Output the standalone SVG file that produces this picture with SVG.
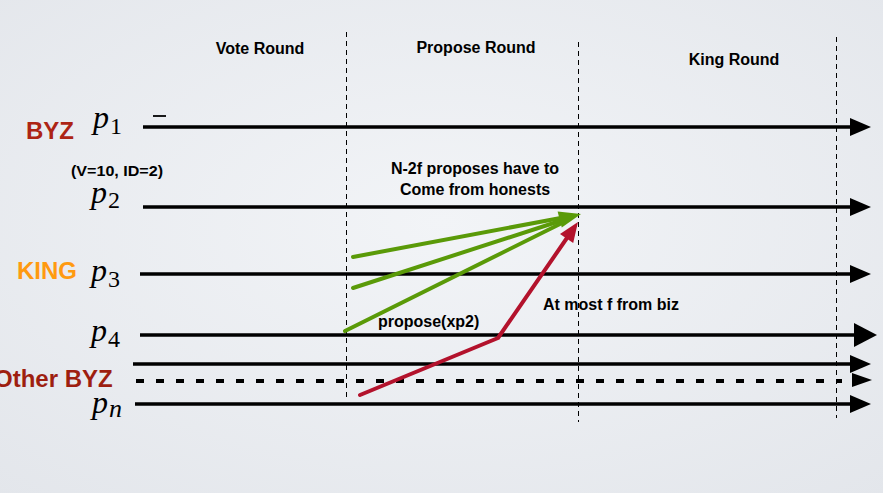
<svg xmlns="http://www.w3.org/2000/svg" width="883" height="493" viewBox="0 0 883 493">
<defs>
<radialGradient id="bg" cx="50%" cy="45%" r="75%">
<stop offset="0" stop-color="#f2f4f7"/>
<stop offset="1" stop-color="#e3e6eb"/>
</radialGradient>
<marker id="ah" markerUnits="userSpaceOnUse" markerWidth="22" markerHeight="18" refX="2" refY="9" orient="auto" viewBox="0 0 22 18">
<polygon points="0,0 21,9 0,18" fill="#000"/>
</marker>
<marker id="ahL" markerUnits="userSpaceOnUse" markerWidth="24" markerHeight="24" refX="2" refY="12" orient="auto" viewBox="0 0 24 24">
<polygon points="0,0 23,12 0,24" fill="#000"/>
</marker>
</defs>
<style>
.t{font-family:"Liberation Sans",Arial,sans-serif;font-weight:bold;fill:#000}
.lab{font-family:"Liberation Sans",Arial,sans-serif;font-weight:bold;font-size:24px}
.m{font-family:"Liberation Serif","Times New Roman",serif;fill:#000}
.tl{stroke:#000;stroke-width:3.5;fill:none}
.vd{stroke:#000;stroke-width:1;stroke-dasharray:5 4;fill:none}
.g{stroke:#5a9a08;stroke-width:4;fill:none;stroke-linecap:round}
.r{stroke:#b3122c;stroke-width:4;fill:none;stroke-linecap:round;stroke-linejoin:round}
</style>
<rect width="883" height="493" fill="url(#bg)"/>

<g id="round-dividers">
<line class="vd" x1="346.5" y1="32" x2="346.5" y2="400"/>
<line class="vd" x1="578.5" y1="42" x2="578.5" y2="422"/>
<line class="vd" x1="836.5" y1="37" x2="836.5" y2="418"/>
</g>

<g id="round-labels">
<text class="t" x="260" y="54" font-size="16" text-anchor="middle">Vote Round</text>
<text class="t" x="476" y="53" font-size="16" text-anchor="middle">Propose Round</text>
<text class="t" x="734" y="65" font-size="16" text-anchor="middle">King Round</text>
</g>

<g id="connectors">
<line class="tl" x1="143" y1="127" x2="852" y2="127" marker-end="url(#ah)"/>
<line class="tl" x1="143" y1="207" x2="852" y2="207" marker-end="url(#ah)"/>
<line class="tl" x1="140" y1="274" x2="852" y2="274" marker-end="url(#ah)"/>
<line class="tl" x1="140" y1="335" x2="856" y2="335" stroke-width="4" marker-end="url(#ahL)"/>
<line class="tl" x1="133" y1="364" x2="852" y2="364" marker-end="url(#ah)"/>
<line x1="136" y1="381" x2="842" y2="381" stroke="#000" stroke-width="4" stroke-dasharray="8 12"/>
<polygon points="852,373 872,380 852,387" fill="#000"/>
<line class="tl" x1="135" y1="404" x2="852" y2="404" marker-end="url(#ah)"/>
<line x1="153" y1="116" x2="166" y2="116" stroke="#000" stroke-width="1.8"/>

<line class="g" x1="353" y1="257" x2="566" y2="217"/>
<line class="g" x1="353" y1="288" x2="566" y2="219"/>
<line class="g" x1="345" y1="331" x2="566" y2="221"/>
<polygon points="557.6,211.5 581,214 561.8,227.6" fill="#5a9a08"/>

<polyline class="r" points="360,395 498,338 569,235"/>
<polygon points="560,234 578,222 573.2,243" fill="#b3122c"/>
</g>

<g id="p1">
<text class="lab" x="26" y="139" fill="#ad2414">BYZ</text>
<text class="m" x="93" y="128" font-size="32" font-style="italic">p</text>
<text class="m" x="110" y="134" font-size="24">1</text>
</g>

<g id="p2">
<text class="t" x="71" y="176" font-size="15" textLength="92" lengthAdjust="spacingAndGlyphs">(V=10, ID=2)</text>
<text class="m" x="91" y="203" font-size="32" font-style="italic">p</text>
<text class="m" x="108" y="208" font-size="24">2</text>
</g>

<g id="p3">
<text class="lab" x="17" y="279" fill="#ff9a10">KING</text>
<text class="m" x="91" y="281" font-size="32" font-style="italic">p</text>
<text class="m" x="108" y="287" font-size="24">3</text>
</g>

<g id="p4">
<text class="m" x="91" y="341" font-size="32" font-style="italic">p</text>
<text class="m" x="108" y="347" font-size="24">4</text>
</g>

<g id="other-byz">
<text class="lab" x="-6" y="387" fill="#9e1f10">Other BYZ</text>
</g>

<g id="pn">
<text class="m" x="92" y="413" font-size="32" font-style="italic">p</text>
<text class="m" x="109" y="417" font-size="26" font-style="italic">n</text>
</g>

<g id="annotations">
<text class="t" x="475" y="174" font-size="16" text-anchor="middle">N-2f proposes have to</text>
<text class="t" x="475" y="195" font-size="16" text-anchor="middle">Come from honests</text>
<text class="t" x="378" y="327" font-size="16">propose(xp2)</text>
<text class="t" x="543" y="310" font-size="16">At most f from biz</text>
</g>
</svg>
